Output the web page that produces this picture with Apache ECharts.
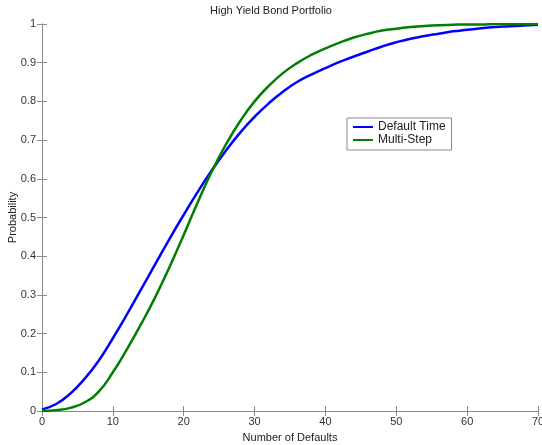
<!DOCTYPE html>
<html>
<head>
<meta charset="utf-8">
<title>High Yield Bond Portfolio</title>
<script src="https://cdn.jsdelivr.net/npm/echarts@6/dist/echarts.min.js"></script>
<style>
    html, body { margin: 0; padding: 0; background: #fff; }
    #chart { width: 542px; height: 445px; }
</style>
</head>
<body>
<div id="chart"></div>
<script>
'use strict';

// number of defaults, read every 2 units
const defaults = [0, 2, 4, 6, 8, 10, 12, 14, 16, 18, 20, 22, 24, 26, 28, 30, 32, 34,
    36, 38, 40, 42, 44, 46, 48, 50, 52, 54, 56, 58, 60, 62, 64, 66, 68, 70];

const defaultTime = [0.004, 0.018, 0.045, 0.083, 0.13, 0.188, 0.25, 0.315, 0.38, 0.445,
    0.507, 0.567, 0.623, 0.674, 0.72, 0.76, 0.795, 0.825, 0.85, 0.869, 0.886, 0.902,
    0.916, 0.929, 0.942, 0.953, 0.962, 0.969, 0.975, 0.981, 0.985, 0.989, 0.992, 0.994,
    0.996, 0.998];

const multiStep = [0.0, 0.002, 0.008, 0.022, 0.05, 0.1, 0.16, 0.225, 0.295, 0.372,
    0.455, 0.54, 0.62, 0.69, 0.75, 0.8, 0.84, 0.873, 0.899, 0.92, 0.937, 0.952,
    0.965, 0.975, 0.983, 0.988, 0.992, 0.995, 0.997, 0.998, 0.999, 0.999, 1.0, 1.0,
    1.0, 1.0];

const seriesNames = ['Default Time', 'Multi-Step'];

(function () {
    const container = document.getElementById('chart');
    const chart = echarts.init(container, null, { renderer: 'canvas' });
    const font = 'Liberation Sans, Arial, sans-serif';
    const axisColor = '#8a8a8a';
    const textColor = '#333';

    const frameAxis = {
        type: 'value',
        min: 0,
        axisLine: { show: true, lineStyle: { color: axisColor, width: 1 } },
        axisTick: { show: true, inside: true, length: 5, lineStyle: { color: axisColor } },
        splitLine: { show: false }
    };

    const options = {
        animation: false,
        textStyle: { fontFamily: font, color: textColor },
        title: {
            text: 'High Yield Bond Portfolio',
            left: 'center',
            top: 0,
            textStyle: { fontSize: 11, fontWeight: 'normal', color: '#222', fontFamily: font }
        },
        legend: {
            data: seriesNames,
            orient: 'vertical',
            left: 347,
            top: 118,
            padding: [3, 6, 4, 6],
            itemGap: 1,
            itemWidth: 20,
            itemHeight: 12,
            backgroundColor: '#fff',
            borderColor: '#8a8a8a',
            borderWidth: 1,
            borderRadius: 0,
            icon: 'path://M0,5 L20,5 L20,7 L0,7 Z',
            textStyle: { fontSize: 12, color: '#222', fontFamily: font }
        },
        grid: { left: 42, right: 4, top: 24, bottom: 34, containLabel: false, outerBoundsMode: 'none' },
        xAxis: [
            Object.assign({}, frameAxis, {
                max: 70,
                interval: 10,
                position: 'bottom',
                name: 'Number of Defaults',
                nameLocation: 'center',
                nameGap: 21,
                nameMoveOverlap: false,
                nameTextStyle: { fontSize: 11, color: '#222' },
                axisLabel: { fontSize: 11, color: textColor, margin: 5 }
            }),
            Object.assign({}, frameAxis, {
                max: 70,
                interval: 10,
                position: 'top',
                axisLabel: { show: false }
            })
        ],
        yAxis: [
            Object.assign({}, frameAxis, {
                max: 1,
                interval: 0.1,
                position: 'left',
                name: 'Probability',
                nameLocation: 'center',
                nameGap: 24,
                nameMoveOverlap: false,
                nameTextStyle: { fontSize: 11, color: '#222' },
                axisLabel: { fontSize: 11, color: textColor, margin: 6 }
            }),
            Object.assign({}, frameAxis, {
                max: 1,
                interval: 0.1,
                position: 'right',
                axisLabel: { show: false }
            })
        ],
        series: [
            {
                name: seriesNames[0],
                type: 'line',
                smooth: 0.5,
                showSymbol: false,
                color: '#0000ff',
                lineStyle: { width: 2.5, color: '#0000ff' },
                data: defaults.map((x, i) => [x, defaultTime[i]])
            },
            {
                name: seriesNames[1],
                type: 'line',
                smooth: 0.5,
                showSymbol: false,
                color: '#007f00',
                lineStyle: { width: 2.5, color: '#007f00' },
                data: defaults.map((x, i) => [x, multiStep[i]])
            }
        ]
    };

    chart.setOption(options);
    window.addEventListener('resize', () => {
        chart.resize();
    });
})();
</script>
</body>
</html>
